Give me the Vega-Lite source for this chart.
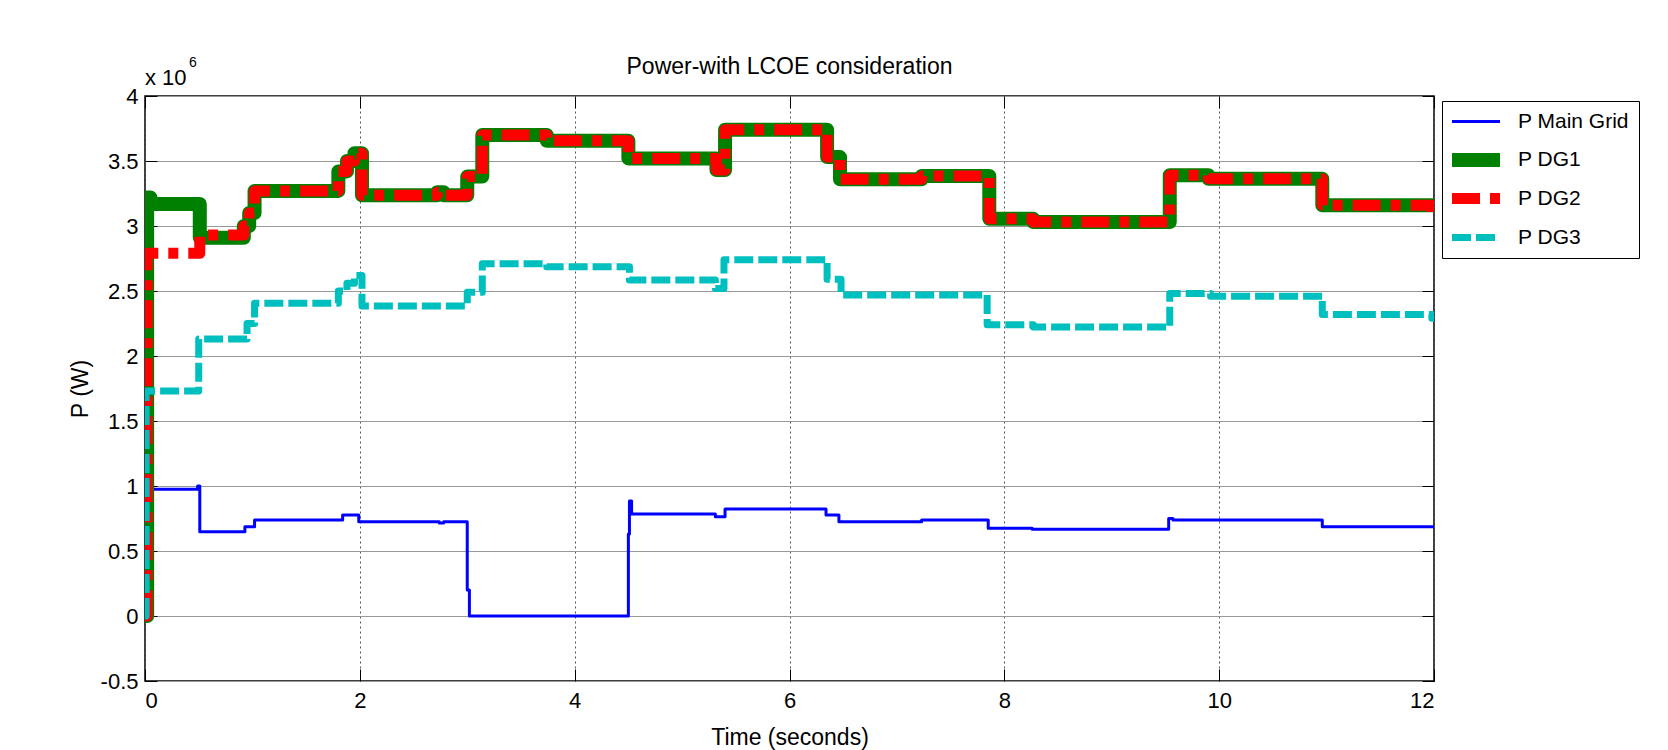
{
  "$schema": "https://vega.github.io/schema/vega-lite/v6.json",
  "width": 1289,
  "height": 585,
  "autosize": {"type": "none"},
  "padding": {"left": 145, "top": 96, "right": 234, "bottom": 69},
  "background": "white",
  "title": {"text": "Power-with LCOE consideration", "fontSize": 23, "font": "Liberation Sans", "fontWeight": "normal", "color": "black", "anchor": "middle", "baseline": "alphabetic", "offset": -41},
  "datasets": {
    "power": [
      {"series": "P Main Grid", "t": 0, "P": 0},
      {"series": "P Main Grid", "t": 0.02, "P": 0.975},
      {"series": "P Main Grid", "t": 0.49, "P": 1.0},
      {"series": "P Main Grid", "t": 0.51, "P": 0.648},
      {"series": "P Main Grid", "t": 0.93, "P": 0.686},
      {"series": "P Main Grid", "t": 1.02, "P": 0.738},
      {"series": "P Main Grid", "t": 1.84, "P": 0.776},
      {"series": "P Main Grid", "t": 1.99, "P": 0.725},
      {"series": "P Main Grid", "t": 2.74, "P": 0.715},
      {"series": "P Main Grid", "t": 2.78, "P": 0.725},
      {"series": "P Main Grid", "t": 3.0, "P": 0.2},
      {"series": "P Main Grid", "t": 3.02, "P": 0},
      {"series": "P Main Grid", "t": 4.5, "P": 0.63},
      {"series": "P Main Grid", "t": 4.51, "P": 0.885},
      {"series": "P Main Grid", "t": 4.53, "P": 0.785},
      {"series": "P Main Grid", "t": 5.31, "P": 0.764},
      {"series": "P Main Grid", "t": 5.4, "P": 0.823},
      {"series": "P Main Grid", "t": 6.34, "P": 0.777},
      {"series": "P Main Grid", "t": 6.46, "P": 0.725},
      {"series": "P Main Grid", "t": 7.23, "P": 0.738},
      {"series": "P Main Grid", "t": 7.85, "P": 0.675},
      {"series": "P Main Grid", "t": 8.26, "P": 0.667},
      {"series": "P Main Grid", "t": 9.53, "P": 0.75},
      {"series": "P Main Grid", "t": 9.57, "P": 0.738},
      {"series": "P Main Grid", "t": 10.96, "P": 0.687},
      {"series": "P Main Grid", "t": 12, "P": 0.687},

      {"series": "P DG1", "t": 0, "P": 0},
      {"series": "P DG1", "t": 0.02, "P": 3.22},
      {"series": "P DG1", "t": 0.05, "P": 3.17},
      {"series": "P DG1", "t": 0.51, "P": 2.91},
      {"series": "P DG1", "t": 0.92, "P": 3.0},
      {"series": "P DG1", "t": 0.97, "P": 3.1},
      {"series": "P DG1", "t": 1.02, "P": 3.27},
      {"series": "P DG1", "t": 1.8, "P": 3.42},
      {"series": "P DG1", "t": 1.88, "P": 3.5},
      {"series": "P DG1", "t": 1.95, "P": 3.56},
      {"series": "P DG1", "t": 2.02, "P": 3.236},
      {"series": "P DG1", "t": 2.72, "P": 3.26},
      {"series": "P DG1", "t": 2.78, "P": 3.236},
      {"series": "P DG1", "t": 3.0, "P": 3.38},
      {"series": "P DG1", "t": 3.14, "P": 3.7},
      {"series": "P DG1", "t": 3.74, "P": 3.656},
      {"series": "P DG1", "t": 4.5, "P": 3.52},
      {"series": "P DG1", "t": 5.32, "P": 3.43},
      {"series": "P DG1", "t": 5.4, "P": 3.74},
      {"series": "P DG1", "t": 6.35, "P": 3.53},
      {"series": "P DG1", "t": 6.47, "P": 3.36},
      {"series": "P DG1", "t": 7.23, "P": 3.385},
      {"series": "P DG1", "t": 7.86, "P": 3.055},
      {"series": "P DG1", "t": 8.27, "P": 3.03},
      {"series": "P DG1", "t": 9.54, "P": 3.39},
      {"series": "P DG1", "t": 9.9, "P": 3.364},
      {"series": "P DG1", "t": 10.96, "P": 3.16},
      {"series": "P DG1", "t": 12, "P": 3.16},

      {"series": "P DG2", "t": 0, "P": 0},
      {"series": "P DG2", "t": 0.02, "P": 2.79},
      {"series": "P DG2", "t": 0.51, "P": 2.93},
      {"series": "P DG2", "t": 0.92, "P": 3.0},
      {"series": "P DG2", "t": 0.97, "P": 3.1},
      {"series": "P DG2", "t": 1.02, "P": 3.27},
      {"series": "P DG2", "t": 1.8, "P": 3.42},
      {"series": "P DG2", "t": 1.88, "P": 3.5},
      {"series": "P DG2", "t": 1.95, "P": 3.56},
      {"series": "P DG2", "t": 2.02, "P": 3.236},
      {"series": "P DG2", "t": 2.72, "P": 3.26},
      {"series": "P DG2", "t": 2.78, "P": 3.236},
      {"series": "P DG2", "t": 3.0, "P": 3.38},
      {"series": "P DG2", "t": 3.14, "P": 3.7},
      {"series": "P DG2", "t": 3.74, "P": 3.656},
      {"series": "P DG2", "t": 4.5, "P": 3.52},
      {"series": "P DG2", "t": 5.32, "P": 3.43},
      {"series": "P DG2", "t": 5.4, "P": 3.74},
      {"series": "P DG2", "t": 6.35, "P": 3.53},
      {"series": "P DG2", "t": 6.47, "P": 3.36},
      {"series": "P DG2", "t": 7.23, "P": 3.385},
      {"series": "P DG2", "t": 7.86, "P": 3.055},
      {"series": "P DG2", "t": 8.27, "P": 3.03},
      {"series": "P DG2", "t": 9.54, "P": 3.39},
      {"series": "P DG2", "t": 9.9, "P": 3.364},
      {"series": "P DG2", "t": 10.96, "P": 3.16},
      {"series": "P DG2", "t": 11.98, "P": 3.1},
      {"series": "P DG2", "t": 12, "P": 3.1},

      {"series": "P DG3", "t": 0, "P": 0},
      {"series": "P DG3", "t": 0.01, "P": 1.73},
      {"series": "P DG3", "t": 0.5, "P": 2.13},
      {"series": "P DG3", "t": 0.95, "P": 2.25},
      {"series": "P DG3", "t": 1.02, "P": 2.405},
      {"series": "P DG3", "t": 1.8, "P": 2.5},
      {"series": "P DG3", "t": 1.88, "P": 2.56},
      {"series": "P DG3", "t": 1.95, "P": 2.62},
      {"series": "P DG3", "t": 2.02, "P": 2.385},
      {"series": "P DG3", "t": 3.0, "P": 2.49},
      {"series": "P DG3", "t": 3.14, "P": 2.71},
      {"series": "P DG3", "t": 3.74, "P": 2.687},
      {"series": "P DG3", "t": 4.51, "P": 2.585},
      {"series": "P DG3", "t": 5.31, "P": 2.52},
      {"series": "P DG3", "t": 5.39, "P": 2.74},
      {"series": "P DG3", "t": 6.35, "P": 2.59},
      {"series": "P DG3", "t": 6.48, "P": 2.47},
      {"series": "P DG3", "t": 7.84, "P": 2.24},
      {"series": "P DG3", "t": 8.27, "P": 2.223},
      {"series": "P DG3", "t": 9.54, "P": 2.48},
      {"series": "P DG3", "t": 9.92, "P": 2.46},
      {"series": "P DG3", "t": 10.96, "P": 2.32},
      {"series": "P DG3", "t": 11.98, "P": 2.29},
      {"series": "P DG3", "t": 12, "P": 2.29}
    ],
    "exponent": [
      {"t": 0, "P": 4, "label": "x 10", "kind": "base"},
      {"t": 0, "P": 4, "label": "6", "kind": "sup"}
    ]
  },
  "layer": [
    {
      "data": {"name": "power"},
      "transform": [{"filter": "datum.series === 'P Main Grid'"}],
      "mark": {"type": "line", "interpolate": "step-after", "strokeCap": "round", "strokeJoin": "round", "clip": true},
      "encoding": {
        "x": {"field": "t", "type": "quantitative", "scale": {"domain": [0, 12], "nice": false},
          "axis": {"orient": "bottom", "values": [0, 2, 4, 6, 8, 10, 12], "title": "Time (seconds)", "titleFontSize": 23, "titlePadding": 15, "grid": true, "gridColor": "#555555", "gridDash": [2, 3], "gridWidth": 1, "tickSize": -12, "tickColor": "black", "labelPadding": 21, "labelFontSize": 22, "labelExpr": "datum.value + ''", "domain": false}},
        "y": {"field": "P", "type": "quantitative", "scale": {"domain": [-0.5, 4], "nice": false, "zero": false},
          "axis": {"orient": "left", "values": [-0.5, 0, 0.5, 1, 1.5, 2, 2.5, 3, 3.5, 4], "title": "P (W)", "titleFontSize": 23, "titlePadding": 8, "grid": true, "gridColor": "#999999", "gridWidth": 1, "tickSize": -12, "tickColor": "black", "labelPadding": 19, "labelFontSize": 22, "labelExpr": "datum.value + ''", "domain": false}},
        "color": {"field": "series", "type": "nominal", "scale": {"type": "ordinal", "domain": ["P Main Grid", "P DG1", "P DG2", "P DG3"], "range": ["#0000FF", "#008000", "#FF0000", "#00BFBF"]}, "legend": {"title": null, "encode": {"symbols": {"update": {"strokeJoin": {"value": "round"}}}}}},
        "strokeDash": {"field": "series", "type": "nominal", "scale": {"type": "ordinal", "domain": ["P Main Grid", "P DG1", "P DG2", "P DG3"], "range": [[1, 0], [1, 0], [28, 10, 10, 10], [19, 5]]}, "legend": {"title": null, "encode": {"symbols": {"update": {"strokeJoin": {"value": "round"}}}}}},
        "strokeWidth": {"field": "series", "type": "nominal", "scale": {"type": "ordinal", "domain": ["P Main Grid", "P DG1", "P DG2", "P DG3"], "range": [3, 14, 11, 7]}, "legend": {"title": null, "encode": {"symbols": {"update": {"strokeJoin": {"value": "round"}}}}}}
      }
    },
    {
      "data": {"name": "power"},
      "transform": [{"filter": "datum.series === 'P DG1'"}],
      "mark": {"type": "line", "interpolate": "step-after", "strokeCap": "round", "strokeJoin": "round", "clip": true},
      "encoding": {
        "x": {"field": "t", "type": "quantitative", "scale": {"domain": [0, 12], "nice": false},
          "axis": {"orient": "top", "values": [0, 2, 4, 6, 8, 10, 12], "title": null, "labels": false, "grid": false, "tickSize": -12, "tickColor": "black", "domain": false}},
        "y": {"field": "P", "type": "quantitative", "scale": {"domain": [-0.5, 4], "nice": false, "zero": false},
          "axis": {"orient": "right", "values": [-0.5, 0, 0.5, 1, 1.5, 2, 2.5, 3, 3.5, 4], "title": null, "labels": false, "grid": false, "tickSize": -12, "tickColor": "black", "domain": false}},
        "color": {"field": "series", "type": "nominal", "scale": {"type": "ordinal", "domain": ["P Main Grid", "P DG1", "P DG2", "P DG3"], "range": ["#0000FF", "#008000", "#FF0000", "#00BFBF"]}, "legend": {"title": null, "encode": {"symbols": {"update": {"strokeJoin": {"value": "round"}}}}}},
        "strokeDash": {"field": "series", "type": "nominal", "scale": {"type": "ordinal", "domain": ["P Main Grid", "P DG1", "P DG2", "P DG3"], "range": [[1, 0], [1, 0], [28, 10, 10, 10], [19, 5]]}, "legend": {"title": null, "encode": {"symbols": {"update": {"strokeJoin": {"value": "round"}}}}}},
        "strokeWidth": {"field": "series", "type": "nominal", "scale": {"type": "ordinal", "domain": ["P Main Grid", "P DG1", "P DG2", "P DG3"], "range": [3, 14, 11, 7]}, "legend": {"title": null, "encode": {"symbols": {"update": {"strokeJoin": {"value": "round"}}}}}}
      }
    },
    {
      "data": {"name": "power"},
      "transform": [{"filter": "datum.series === 'P DG2'"}],
      "mark": {"type": "line", "interpolate": "step-after", "strokeCap": "butt", "strokeJoin": "round", "clip": true},
      "encoding": {
        "x": {"field": "t", "type": "quantitative", "axis": null},
        "y": {"field": "P", "type": "quantitative", "axis": null},
        "color": {"field": "series", "type": "nominal", "scale": {"type": "ordinal", "domain": ["P Main Grid", "P DG1", "P DG2", "P DG3"], "range": ["#0000FF", "#008000", "#FF0000", "#00BFBF"]}, "legend": {"title": null, "encode": {"symbols": {"update": {"strokeJoin": {"value": "round"}}}}}},
        "strokeDash": {"field": "series", "type": "nominal", "scale": {"type": "ordinal", "domain": ["P Main Grid", "P DG1", "P DG2", "P DG3"], "range": [[1, 0], [1, 0], [28, 10, 10, 10], [19, 5]]}, "legend": {"title": null, "encode": {"symbols": {"update": {"strokeJoin": {"value": "round"}}}}}},
        "strokeWidth": {"field": "series", "type": "nominal", "scale": {"type": "ordinal", "domain": ["P Main Grid", "P DG1", "P DG2", "P DG3"], "range": [3, 14, 11, 7]}, "legend": {"title": null, "encode": {"symbols": {"update": {"strokeJoin": {"value": "round"}}}}}}
      }
    },
    {
      "data": {"name": "power"},
      "transform": [{"filter": "datum.series === 'P DG3'"}],
      "mark": {"type": "line", "interpolate": "step-after", "strokeCap": "butt", "strokeJoin": "round", "clip": true},
      "encoding": {
        "x": {"field": "t", "type": "quantitative", "axis": null},
        "y": {"field": "P", "type": "quantitative", "axis": null},
        "color": {"field": "series", "type": "nominal", "scale": {"type": "ordinal", "domain": ["P Main Grid", "P DG1", "P DG2", "P DG3"], "range": ["#0000FF", "#008000", "#FF0000", "#00BFBF"]}, "legend": {"title": null, "encode": {"symbols": {"update": {"strokeJoin": {"value": "round"}}}}}},
        "strokeDash": {"field": "series", "type": "nominal", "scale": {"type": "ordinal", "domain": ["P Main Grid", "P DG1", "P DG2", "P DG3"], "range": [[1, 0], [1, 0], [28, 10, 10, 10], [19, 5]]}, "legend": {"title": null, "encode": {"symbols": {"update": {"strokeJoin": {"value": "round"}}}}}},
        "strokeWidth": {"field": "series", "type": "nominal", "scale": {"type": "ordinal", "domain": ["P Main Grid", "P DG1", "P DG2", "P DG3"], "range": [3, 14, 11, 7]}, "legend": {"title": null, "encode": {"symbols": {"update": {"strokeJoin": {"value": "round"}}}}}}
      }
    },
    {
      "data": {"name": "exponent"},
      "transform": [{"filter": "datum.kind === 'base'"}],
      "mark": {"type": "text", "align": "left", "baseline": "alphabetic", "dy": -11, "fontSize": 22, "font": "Liberation Sans", "color": "black"},
      "encoding": {
        "x": {"field": "t", "type": "quantitative", "axis": null},
        "y": {"field": "P", "type": "quantitative", "axis": null},
        "text": {"field": "label"}
      }
    },
    {
      "data": {"name": "exponent"},
      "transform": [{"filter": "datum.kind === 'sup'"}],
      "mark": {"type": "text", "align": "left", "baseline": "alphabetic", "dx": 44, "dy": -29, "fontSize": 14, "font": "Liberation Sans", "color": "black"},
      "encoding": {
        "x": {"field": "t", "type": "quantitative", "axis": null},
        "y": {"field": "P", "type": "quantitative", "axis": null},
        "text": {"field": "label"}
      }
    }
  ],
  "resolve": {"axis": {"x": "independent", "y": "independent"}},
  "config": {
    "font": "Liberation Sans",
    "view": {"stroke": "black", "strokeWidth": 1.5},
    "axis": {"labelFont": "Liberation Sans", "labelColor": "black", "titleFont": "Liberation Sans", "titleFontWeight": "normal", "titleColor": "black", "tickColor": "black"},
    "legend": {"orient": "none", "legendX": 1297, "legendY": 5, "padding": 10, "strokeColor": "black", "fillColor": "white", "symbolType": "M-6,0L6,0", "symbolSize": 64, "symbolOffset": 13, "labelFontSize": 21, "labelFont": "Liberation Sans", "labelColor": "black", "labelOffset": 31, "rowPadding": 17}
  }
}
